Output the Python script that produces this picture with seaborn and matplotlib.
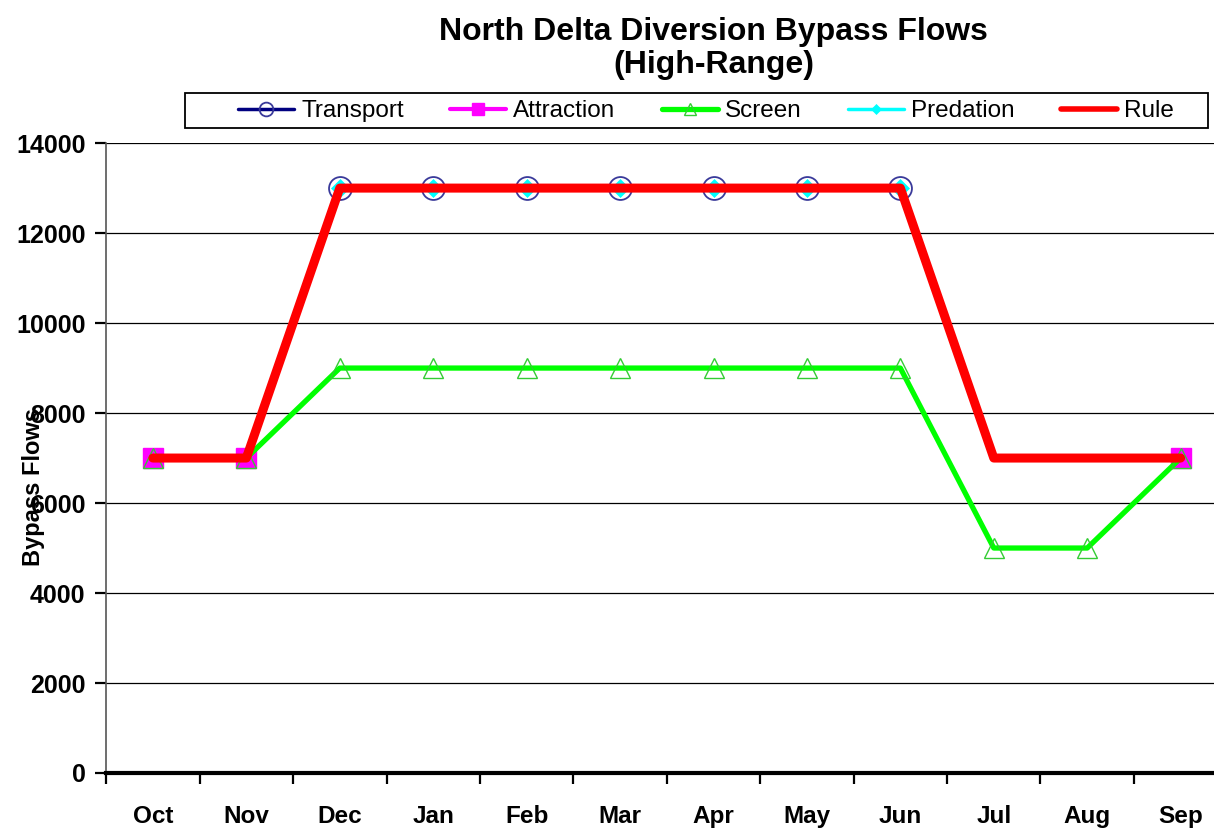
import numpy as np
import pandas as pd
import matplotlib
matplotlib.use("Agg")
import matplotlib.pyplot as plt
import seaborn as sns
from matplotlib.lines import Line2D
from matplotlib.patches import Rectangle

nan = np.nan
months = ["Oct", "Nov", "Dec", "Jan", "Feb", "Mar", "Apr", "May", "Jun", "Jul", "Aug", "Sep"]
transport = [nan, nan, 13000, 13000, 13000, 13000, 13000, 13000, 13000, nan, nan, nan]
attraction = [7000, 7000, nan, nan, nan, nan, nan, nan, nan, nan, nan, 7000]
screen = [7000, 7000, 9000, 9000, 9000, 9000, 9000, 9000, 9000, 5000, 5000, 7000]
predation = [nan, nan, 13000, 13000, 13000, 13000, 13000, 13000, 13000, nan, nan, nan]
rule = [7000, 7000, 13000, 13000, 13000, 13000, 13000, 13000, 13000, 7000, 7000, 7000]
series_names = ["Transport", "Attraction", "Screen", "Predation", "Rule"]
yticks = [0, 2000, 4000, 6000, 8000, 10000, 12000, 14000]

sns.set_theme(style="ticks")
plt.rcParams['font.family'] = ['Liberation Sans', 'DejaVu Sans']
plt.rcParams.update({"text.color": "black", "axes.labelcolor": "black",
                     "xtick.color": "black", "ytick.color": "black"})

W, H = 1214, 831
fig = plt.figure(figsize=(W / 100, H / 100), dpi=100)
ax = fig.add_axes([0.0875, 0.0698, 0.9235, 0.758])


def to_df(vals):
    df = pd.DataFrame({"x": np.arange(len(vals)), "y": vals})
    df["seg"] = df["y"].isna().cumsum()
    return df.dropna()


styles = {
    "Transport": dict(color="#000080", marker="o", markersize=16.5, markerfacecolor="none",
                      markeredgecolor="#3a3a9a", markeredgewidth=1.3, linewidth=2.5, zorder=3),
    "Attraction": dict(color="#FF00FF", marker="s", markersize=14, markerfacecolor="#FF00FF",
                       markeredgecolor="#FF00FF", markeredgewidth=1, linewidth=3, zorder=4),
    "Screen": dict(color="#00FF00", marker="^", markersize=14, markerfacecolor="none",
                   markeredgecolor="#33cc33", markeredgewidth=1.0, linewidth=3.8, zorder=5),
    "Predation": dict(color="#00FFFF", marker="D", markersize=9, markerfacecolor="#00FFFF",
                      markeredgecolor="#00FFFF", markeredgewidth=0.5, linewidth=2.5, zorder=6),
    "Rule": dict(color="#FF0000", linewidth=6.5, zorder=7),
}
data = {"Transport": transport, "Attraction": attraction, "Screen": screen,
        "Predation": predation, "Rule": rule}

for name in series_names:
    df = to_df(data[name])
    sns.lineplot(data=df, x="x", y="y", units="seg", estimator=None, sort=False,
                 ax=ax, legend=False, **styles[name])

ax.set_xlim(-0.5, 11.5)
ax.set_ylim(0, 14000)
ax.set_yticks(yticks)
ax.set_yticklabels([str(v) for v in yticks], fontsize=18, fontweight="bold")
ax.yaxis.grid(True, color="black", linewidth=0.9)
ax.set_axisbelow(True)

ax.set_xticks(np.arange(-0.5, 12, 1))
ax.set_xticklabels([])
ax.set_xticks(np.arange(12), minor=True)
ax.set_xticklabels(months, minor=True, fontsize=17.5, fontweight="bold")
ax.tick_params(axis="x", which="minor", length=0, pad=23)
ax.tick_params(axis="x", which="major", length=8, width=1.6, color="black", direction="out")
ax.tick_params(axis="y", which="major", length=8, width=1.6, color="black", direction="out", pad=7)

for s in ["top", "right"]:
    ax.spines[s].set_visible(False)
ax.spines["left"].set_color("#555555")
ax.spines["left"].set_linewidth(1.2)
ax.spines["bottom"].set_color("black")
ax.spines["bottom"].set_linewidth(3)

ax.set_xlabel("")
ax.set_ylabel("Bypass Flows", fontsize=17, fontweight="bold")
ax.yaxis.set_label_coords(-0.055, 0.454)

fig.text(0.588, 0.980, "North Delta Diversion Bypass Flows\n(High-Range)", ha="center", va="top",
         fontsize=23, fontweight="bold", linespacing=1.13)

# legend frame (Excel style box)
fig.patches.append(Rectangle((185 / W, 1 - 128 / H), (1208 - 185) / W, 35 / H,
                             transform=fig.transFigure, fill=False, edgecolor="black",
                             linewidth=1.3, zorder=10))

handles = []
for name in series_names:
    st = {k: v for k, v in styles[name].items() if k != "zorder"}
    if "markersize" in st:
        st["markersize"] = st["markersize"] * 0.6
    if name == "Rule":
        st["linewidth"] = 4
    handles.append(Line2D([0], [0], **st))
leg = fig.legend(handles, series_names, loc="center", bbox_to_anchor=(706 / W, 1 - 111 / H),
                 ncol=5, frameon=False, fontsize=17.5, handlelength=2.3, handletextpad=0.3,
                 columnspacing=1.9, borderaxespad=0, borderpad=0)

fig.savefig("out.png", dpi=100)
